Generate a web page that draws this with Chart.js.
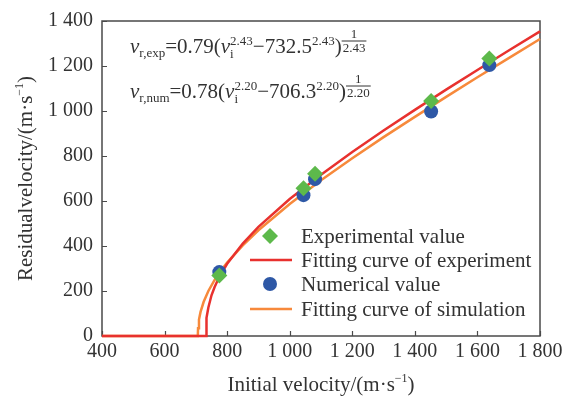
<!DOCTYPE html>
<html>
<head>
<meta charset="utf-8">
<script src="https://cdn.jsdelivr.net/npm/chart.js@4.4.1/dist/chart.umd.min.js"></script>
<style>
  html, body { margin: 0; padding: 0; background: #fff; }
  #wrap { width: 569px; height: 398px; }
</style>
</head>
<body>
<div id="wrap"><canvas id="chart"></canvas></div>
<script>
// titik data
var expX = [775, 1044, 1081, 1452, 1638];
var expY = [269, 657, 721, 1045, 1233];
var numX = [775, 1044, 1081, 1452, 1638];
var numY = [284, 626, 697, 998, 1204];

// kurva fitting, sampel
var fitExpX = [400, 732.5, 733, 735, 740, 750, 760, 775, 800, 850, 900, 1000, 1100, 1200, 1300, 1400, 1500, 1600, 1700, 1800];
var fitExpY = [0, 0, 42, 81, 127, 181, 218, 263, 321, 411, 485, 609, 717, 818, 913, 1005, 1095, 1182, 1269, 1354];
var fitNumX = [400, 706.3, 707, 710, 715, 725, 740, 760, 775, 800, 850, 900, 1000, 1100, 1200, 1300, 1400, 1500, 1600, 1700, 1800];
var fitNumY = [0, 0, 34, 73, 107, 152, 200, 249, 281, 326, 403, 470, 587, 692, 790, 884, 974, 1063, 1150, 1235, 1320];

var xTicks = [400, 600, 800, 1000, 1200, 1400, 1600, 1800];
var xTickLabels = ['400', '600', '800', '1 000', '1 200', '1 400', '1 600', '1 800'];
var yTicks = [0, 200, 400, 600, 800, 1000, 1200, 1400];
var yTickLabels = ['0', '200', '400', '600', '800', '1 000', '1 200', '1 400'];

var legendLabels = ['Experimental value', 'Fitting curve of experiment', 'Numerical value', 'Fitting curve of simulation'];

var FONT = '"Liberation Serif", "Times New Roman", serif';
var TXT = '#333333';
var C_GREEN = '#5DB94B', C_BLUE = '#2E58A6', C_RED = '#E8312E', C_ORANGE = '#F7893B';

function toPts(xs, ys) {
    return xs.map(function (x, i) { return { x: x, y: ys[i] }; });
}

// tulis teks dengan subscript / superscript / pecahan
function drawRich(ctx, x, y, parts) {
    var cx = x;
    parts.forEach(function (p) {
        if (p.frac) {
            ctx.font = p.size + 'px ' + FONT;
            var wn = ctx.measureText(p.num).width;
            var wd = ctx.measureText(p.den).width;
            var w = Math.max(wn, wd) + 2;
            ctx.fillText(p.num, cx + (w - wn) / 2, y + p.dyNum);
            ctx.fillText(p.den, cx + (w - wd) / 2, y + p.dyDen);
            ctx.save();
            ctx.strokeStyle = TXT;
            ctx.lineWidth = 1;
            ctx.beginPath();
            ctx.moveTo(cx, y + p.dyBar);
            ctx.lineTo(cx + w, y + p.dyBar);
            ctx.stroke();
            ctx.restore();
            cx += w;
            return;
        }
        ctx.font = (p.it ? 'italic ' : '') + p.size + 'px ' + FONT;
        ctx.fillText(p.t, cx, y + (p.dy || 0));
        if (!p.stay) cx += ctx.measureText(p.t).width;
    });
    return cx - x;
}

function richWidth(ctx, parts) {
    ctx.save();
    ctx.globalAlpha = 0;
    var w = drawRich(ctx, 0, 0, parts);
    ctx.restore();
    return w;
}

function eqParts(sub, coef, p, v0) {
    return [
        { t: 'v', size: 21, it: true },
        { t: sub, size: 13, dy: 4 },
        { t: '=' + coef + '(', size: 21 },
        { t: 'v', size: 21, it: true },
        { t: 'i', size: 13, dy: 5, stay: true },
        { t: p, size: 13, dy: -8 },
        { t: '\u2212' + v0, size: 21 },
        { t: p, size: 13, dy: -8 },
        { t: ')', size: 21 },
        { frac: true, num: '1', den: p, size: 13, dyNum: -15, dyBar: -12, dyDen: -1 }
    ];
}

var decorPlugin = {
    id: 'decor',
    beforeDatasetsDraw: function (chart) {
        var ctx = chart.ctx, a = chart.chartArea;
        var xs = chart.scales.x, ys = chart.scales.y;
        ctx.save();
        ctx.strokeStyle = '#4a4a4a';
        ctx.lineWidth = 1.5;
        ctx.strokeRect(a.left, a.top, a.right - a.left, a.bottom - a.top);
        ctx.lineWidth = 1.2;
        ctx.beginPath();
        xTicks.forEach(function (v) {
            var px = Math.round(xs.getPixelForValue(v)) + 0.5;
            ctx.moveTo(px, a.bottom);
            ctx.lineTo(px, a.bottom - 5);
        });
        yTicks.forEach(function (v) {
            var py = Math.round(ys.getPixelForValue(v)) + 0.5;
            ctx.moveTo(a.left, py);
            ctx.lineTo(a.left + 5, py);
        });
        ctx.stroke();
        ctx.restore();
    },
    afterDraw: function (chart) {
        var ctx = chart.ctx, a = chart.chartArea;
        ctx.save();
        ctx.fillStyle = TXT;
        ctx.textBaseline = 'alphabetic';

        // judul sumbu x
        var xt = [
            { t: 'Initial velocity/(m\u00B7s', size: 21 },
            { t: '\u22121', size: 12, dy: -9 },
            { t: ')', size: 21 }
        ];
        var wx = richWidth(ctx, xt);
        drawRich(ctx, (a.left + a.right) / 2 - wx / 2, 391, xt);

        // judul sumbu y
        var yt = [
            { t: 'Residualvelocity/(m\u00B7s', size: 21 },
            { t: '\u22121', size: 12, dy: -9 },
            { t: ')', size: 21 }
        ];
        var wy = richWidth(ctx, yt);
        ctx.save();
        ctx.translate(32, (a.top + a.bottom) / 2);
        ctx.rotate(-Math.PI / 2);
        drawRich(ctx, -wy / 2, 0, yt);
        ctx.restore();

        // persamaan fitting
        drawRich(ctx, 130, 53, eqParts('r,exp', '0.79', '2.43', '732.5'));
        drawRich(ctx, 130, 98, eqParts('r,num', '0.78', '2.20', '706.3'));

        // legenda
        var rows = [236, 260, 284, 309];
        chart.data.datasets.forEach(function (ds, i) {
            var y = rows[i];
            if (ds.pointRadius > 0) {
                ctx.fillStyle = ds.backgroundColor;
                Chart.helpers.drawPoint(ctx, {
                    pointStyle: ds.pointStyle,
                    radius: ds.pointRadius,
                    borderWidth: 0
                }, 270, y);
            } else {
                ctx.strokeStyle = ds.borderColor;
                ctx.lineWidth = 2.5;
                ctx.beginPath();
                ctx.moveTo(250, y);
                ctx.lineTo(292, y);
                ctx.stroke();
            }
            ctx.fillStyle = TXT;
            ctx.font = '21px ' + FONT;
            ctx.textBaseline = 'middle';
            ctx.fillText(ds.label, 301, y + 1);
            ctx.textBaseline = 'alphabetic';
        });
        ctx.restore();
    }
};

new Chart(document.getElementById('chart').getContext('2d'), {
    type: 'scatter',
    data: {
        datasets: [
            {
                label: legendLabels[0],
                data: toPts(expX, expY),
                pointStyle: 'rectRot',
                pointRadius: 8,
                backgroundColor: C_GREEN,
                borderWidth: 0,
                order: 0
            },
            {
                label: legendLabels[1],
                data: toPts(fitExpX, fitExpY),
                showLine: true,
                pointRadius: 0,
                borderColor: C_RED,
                borderWidth: 2.5,
                tension: 0,
                clip: false,
                order: 2
            },
            {
                label: legendLabels[2],
                data: toPts(numX, numY),
                pointStyle: 'circle',
                pointRadius: 7,
                backgroundColor: C_BLUE,
                borderWidth: 0,
                order: 1
            },
            {
                label: legendLabels[3],
                data: toPts(fitNumX, fitNumY),
                showLine: true,
                pointRadius: 0,
                borderColor: C_ORANGE,
                borderWidth: 2.5,
                tension: 0,
                clip: false,
                order: 3
            }
        ]
    },
    options: {
        responsive: true,
        maintainAspectRatio: false,
        animation: false,
        events: [],
        layout: { padding: { top: 19, right: 29, bottom: 0, left: 0 } },
        plugins: {
            legend: { display: false },
            tooltip: { enabled: false }
        },
        scales: {
            x: {
                type: 'linear',
                min: 400,
                max: 1800,
                afterBuildTicks: function (s) { s.ticks = xTicks.map(function (v) { return { value: v }; }); },
                afterFit: function (s) { s.height = 62; },
                grid: { display: false, drawTicks: false },
                border: { display: false },
                ticks: {
                    padding: 4,
                    color: TXT,
                    font: { family: FONT, size: 20 },
                    maxRotation: 0,
                    callback: function (v) { return xTickLabels[xTicks.indexOf(v)]; }
                }
            },
            y: {
                type: 'linear',
                min: 0,
                max: 1400,
                afterBuildTicks: function (s) { s.ticks = yTicks.map(function (v) { return { value: v }; }); },
                afterFit: function (s) { s.width = 102; },
                grid: { display: false, drawTicks: false },
                border: { display: false },
                ticks: {
                    padding: 9,
                    color: TXT,
                    font: { family: FONT, size: 20 },
                    callback: function (v) { return yTickLabels[yTicks.indexOf(v)]; }
                }
            }
        }
    },
    plugins: [decorPlugin]
});
</script>
</body>
</html>
